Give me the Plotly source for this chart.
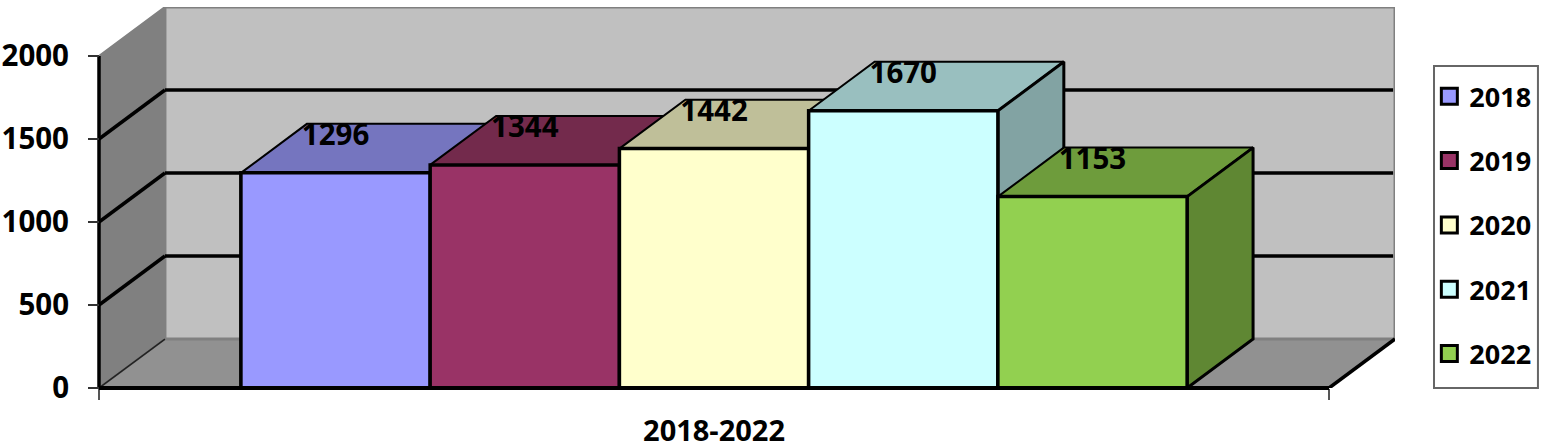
import plotly.graph_objects as go

years = ["2018", "2019", "2020", "2021", "2022"]
values = [1296, 1344, 1442, 1670, 1153]
front_colors = ["#9999FF", "#993366", "#FFFFCC", "#CCFFFF", "#92D050"]
top_colors = ["#7575BF", "#732A4C", "#BFBF99", "#99BFBF", "#6E9C3C"]
side_colors = ["#6666A8", "#5F2240", "#A6A685", "#82A3A3", "#5F8733"]
y_ticks = [0, 500, 1000, 1500, 2000]
x_title = "2018-2022"

DX, DY = 0.3485, 295     # depth of the 3D projection in axis units
X0, X1 = -0.75, 5.75     # extent of the front floor edge
FONT = "Open Sans"
label_font = dict(family=FONT, size=29.5, color="black", weight=700)

fig = go.Figure()

def poly(pts):
    return "M" + "L".join(f"{x},{y}" for x, y in pts) + "Z"

shapes = [
    dict(type="path", layer="below", xref="x", yref="y",
         path=poly([(X0, 0), (X0 + DX, DY), (X0 + DX, 2000 + DY), (X0, 2000)]),
         fillcolor="#808080", line=dict(color="#808080", width=2)),
    dict(type="path", layer="below", xref="x", yref="y",
         path=poly([(X0, 0), (X1, 0), (X1 + DX, DY), (X0 + DX, DY)]),
         fillcolor="#919191", line=dict(color="#707070", width=2)),
    dict(type="path", layer="below", xref="x", yref="y",
         path=poly([(X0 + DX, DY), (X1 + DX, DY), (X1 + DX, 2000 + DY), (X0 + DX, 2000 + DY)]),
         fillcolor="#C0C0C0", line=dict(color="#808080", width=3)),
    # legend box
    dict(type="rect", layer="below", xref="paper", yref="paper",
         x0=1.0301, x1=1.1103, y0=0.0, y1=0.845, line=dict(color="#666666", width=2),
         fillcolor="white"),
]
for t in y_ticks[1:-1]:
    shapes.append(dict(type="line", layer="below", xref="x", yref="y",
                       x0=X0 + DX, x1=X1 + DX - 0.01, y0=t + DY, y1=t + DY,
                       line=dict(color="black", width=3.5)))
    shapes.append(dict(type="line", layer="below", xref="x", yref="y",
                       x0=X0, x1=X0 + DX, y0=t, y1=t + DY,
                       line=dict(color="black", width=3.5)))
shapes.append(dict(type="line", layer="below", xref="x", yref="y",
                   x0=X0, x1=X0 + DX, y0=0, y1=DY, line=dict(color="#222222", width=1.5)))
# Axis lines: unclipped across the plot-area edge, stopping where the reference stops
shapes.append(dict(type="line", layer="above", xref="paper", yref="paper",
                   x0=0, x1=0, y0=y_ticks[0] / (2000 + DY), y1=y_ticks[-1] / (2000 + DY),
                   line=dict(color="black", width=3.5)))
shapes.append(dict(type="line", layer="above", xref="x", yref="paper",
                   x0=X0, x1=X1, y0=0, y1=0, line=dict(color="black", width=4)))
shapes.append(dict(type="line", layer="above", xref="x", yref="y",
                   x0=X1, x1=X1 + DX, y0=0, y1=DY, line=dict(color="black", width=3.5)))
# Y tick marks
for t in y_ticks:
    shapes.append(dict(type="line", layer="above", xref="paper", yref="paper",
                       x0=-11 / 1296, x1=0, y0=t / (2000 + DY), y1=t / (2000 + DY),
                       line=dict(color="#333333", width=2)))

# Real bars carry the data
for i, (yr, v, c) in enumerate(zip(years, values, front_colors)):
    fig.add_trace(go.Bar(x=[i + 0.5], y=[v], width=1, name=yr, showlegend=False,
                         marker=dict(color=c, line=dict(color="black", width=3))))

# Projected faces, painted left to right so nearer bars hide farther ones
for i, v in enumerate(values):
    l, r = i, i + 1
    fig.add_trace(go.Scatter(
        x=[l, r, r + DX, l + DX, l], y=[v, v, v + DY, v + DY, v],
        mode="lines", fill="toself", fillcolor=top_colors[i],
        line=dict(color="black", width=2), showlegend=False, hoverinfo="skip"))
    fig.add_trace(go.Scatter(
        x=[r, r + DX, r + DX, r, r], y=[v, v + DY, DY, 0, v],
        mode="lines", fill="toself", fillcolor=side_colors[i],
        line=dict(color="black", width=3), showlegend=False, hoverinfo="skip"))
    fig.add_trace(go.Scatter(
        x=[l, r, r, l, l], y=[0, 0, v, v, 0],
        mode="lines", fill="toself", fillcolor=front_colors[i],
        line=dict(color="black", width=3.5), showlegend=False, hoverinfo="skip"))

# Value labels in front of everything
fig.add_trace(go.Scatter(
    x=[i + 0.5 for i in range(len(values))], y=[v + 210 for v in values],
    text=[str(v) for v in values], mode="text", textposition="middle center",
    textfont=dict(family=FONT, size=29.5, color="black", weight=700),
    showlegend=False, hoverinfo="skip"))

# Legend keys
for yr, c in zip(years, front_colors):
    fig.add_trace(go.Scatter(
        x=[None], y=[None], mode="markers", name=yr, legendgroup=yr,
        marker=dict(symbol="square", size=16, color=c, line=dict(color="black", width=3))))

fig.update_layout(
    width=1541, height=444,
    margin=dict(l=99, r=146, t=7, b=56, autoexpand=False),
    paper_bgcolor="white", plot_bgcolor="white",
    barmode="overlay", shapes=shapes,
    xaxis=dict(range=[X0, X1 + DX], tickmode="array", tickvals=[2.5], ticktext=[x_title],
               ticks="", showgrid=False, zeroline=False, showline=False, tickangle=0,
               tickfont=dict(family=FONT, size=29, color="black", weight=700),
               ticklabelstandoff=23,
               minor=dict(tickmode="array", tickvals=[X0, X1], ticks="outside", ticklen=11,
                          tickwidth=1.5, tickcolor="#555555", showgrid=False)),
    yaxis=dict(range=[0, 2000 + DY], tickmode="array", tickvals=y_ticks, ticks="",
               showgrid=False, zeroline=False, showline=False,
               tickfont=label_font, ticklabelstandoff=29),
    legend=dict(x=1.0265, y=0.829, xanchor="left", yanchor="top",
                font=dict(family=FONT, size=27, color="black", weight=700),
                borderwidth=0, bgcolor="rgba(0,0,0,0)",
                tracegroupgap=26.25, itemwidth=30, itemsizing="trace"),
)

fig.write_html("out.html", config={"displayModeBar": False},
               post_script="document.body.style.margin='0';")
